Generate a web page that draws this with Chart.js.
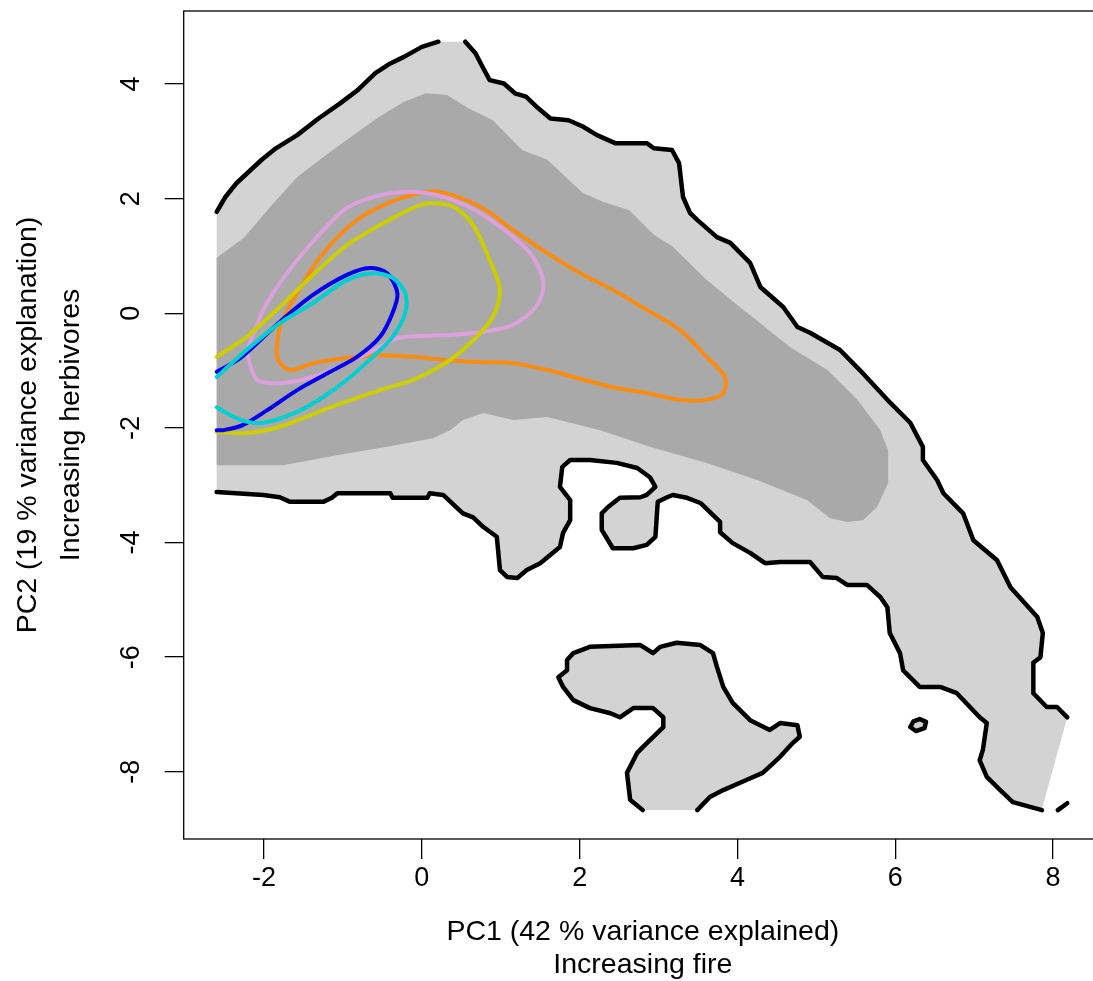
<!DOCTYPE html>
<html>
<head>
<meta charset="utf-8">
<script src="https://cdn.jsdelivr.net/npm/chart.js@4.4.0/dist/chart.umd.min.js"></script>
<style>
  html, body { margin: 0; padding: 0; background: #fff; overflow: hidden; }
  canvas { display: block; }
</style>
</head>
<body>
<canvas id="chart-pca" width="1110" height="981"></canvas>
<script>
// axis ticks
const xTicks = [-2, 0, 2, 4, 6, 8];
const yTicks = [-8, -6, -4, -2, 0, 2, 4];

// outer contour (black), split where it meets the grid edge
const blackLeft = [[-2.6,1.77],[-2.49,2.03],[-2.35,2.27],[-2.03,2.68],[-1.85,2.88],[-1.58,3.11],[-1.31,3.40],[-1.04,3.66],[-0.81,3.90],[-0.59,4.19],[-0.40,4.36],[-0.22,4.48],[0.00,4.65],[0.21,4.74]];
const blackRight = [[0.55,4.74],[0.68,4.54],[0.77,4.30],[0.86,4.07],[1.04,4.01],[1.18,3.84],[1.32,3.78],[1.45,3.61],[1.63,3.40],[1.86,3.37],[2.04,3.26],[2.22,3.11],[2.45,2.97],[2.85,2.97],[2.94,2.88],[3.17,2.85],[3.26,2.62],[3.31,2.03],[3.40,1.75],[3.49,1.63],[3.74,1.33],[3.91,1.23],[4.16,0.88],[4.29,0.46],[4.58,0.11],[4.76,-0.24],[4.92,-0.34],[5.30,-0.64],[5.55,-0.99],[5.90,-1.51],[6.19,-1.91],[6.35,-2.33],[6.35,-2.56],[6.53,-2.91],[6.61,-3.14],[6.86,-3.49],[6.99,-3.96],[7.29,-4.31],[7.46,-4.78],[7.80,-5.30],[7.87,-5.58],[7.84,-6.00],[7.75,-6.10],[7.75,-6.63],[7.92,-6.87],[8.05,-6.87],[8.18,-7.05]];
const gridCorner = [[7.87,-8.6]];
const blackBottom = [[7.86,-8.67],[7.49,-8.53],[7.33,-8.32],[7.16,-8.09],[7.07,-7.80],[7.11,-7.62],[7.16,-7.15],[7.07,-7.05],[6.78,-6.63],[6.57,-6.52],[6.31,-6.52],[6.10,-6.23],[6.06,-5.93],[5.93,-5.58],[5.90,-5.13],[5.81,-4.95],[5.64,-4.74],[5.39,-4.74],[5.26,-4.62],[5.08,-4.60],[4.92,-4.34],[4.54,-4.34],[4.35,-4.36],[4.16,-4.18],[3.94,-4.01],[3.78,-3.82],[3.78,-3.64],[3.53,-3.31],[3.36,-3.22],[3.18,-3.17],[3.11,-3.21],[2.99,-3.29],[2.98,-3.49],[2.96,-3.90],[2.85,-4.04],[2.68,-4.10],[2.42,-4.10],[2.36,-3.96],[2.28,-3.78],[2.28,-3.49],[2.36,-3.38],[2.51,-3.22],[2.77,-3.21],[2.85,-3.17],[2.96,-3.03],[2.89,-2.86],[2.73,-2.70],[2.47,-2.61],[2.13,-2.56],[1.88,-2.56],[1.78,-2.68],[1.75,-3.03],[1.88,-3.26],[1.88,-3.61],[1.79,-3.83],[1.75,-4.08],[1.50,-4.36],[1.33,-4.48],[1.21,-4.62],[1.08,-4.60],[0.99,-4.48],[0.95,-3.90],[0.78,-3.73],[0.65,-3.56],[0.52,-3.49],[0.27,-3.17],[0.10,-3.14],[0.07,-3.22],[-0.37,-3.22],[-0.40,-3.14],[-1.07,-3.14],[-1.14,-3.22],[-1.25,-3.29],[-1.67,-3.29],[-1.80,-3.21],[-2.01,-3.17],[-2.6,-3.12]];
const island = [[2.80,-8.67],[2.64,-8.49],[2.60,-8.02],[2.73,-7.67],[2.80,-7.57],[3.06,-7.22],[3.06,-7.05],[2.93,-6.89],[2.68,-6.89],[2.51,-7.05],[2.39,-6.98],[2.13,-6.89],[1.92,-6.75],[1.79,-6.52],[1.73,-6.35],[1.84,-6.23],[1.84,-6.05],[1.92,-5.93],[2.13,-5.82],[2.77,-5.79],[2.93,-5.93],[3.02,-5.82],[3.23,-5.75],[3.53,-5.79],[3.69,-5.93],[3.74,-6.17],[3.82,-6.52],[3.94,-6.80],[4.16,-7.10],[4.41,-7.27],[4.54,-7.15],[4.76,-7.19],[4.79,-7.39],[4.70,-7.50],[4.54,-7.74],[4.32,-8.02],[4.12,-8.14],[3.82,-8.32],[3.65,-8.44],[3.49,-8.67]];
const blob = [[6.19,-7.22],[6.23,-7.12],[6.31,-7.08],[6.39,-7.13],[6.37,-7.24],[6.26,-7.29],[6.19,-7.22]];
const fragment = [[8.06,-8.67],[8.18,-8.55]];

// inner (dark grey) region
const darkRegion = [[-2.6,0.97],[-2.26,1.31],[-1.92,1.86],[-1.58,2.38],[-1.13,2.85],[-0.54,3.43],[-0.23,3.69],[0.05,3.84],[0.32,3.81],[0.59,3.58],[0.90,3.37],[1.27,2.85],[1.59,2.68],[2.04,2.10],[2.31,1.94],[2.63,1.80],[2.94,1.37],[3.18,1.16],[3.61,0.58],[4.03,0.11],[4.67,-0.59],[5.14,-0.99],[5.52,-1.51],[5.81,-2.04],[5.91,-2.39],[5.91,-2.96],[5.77,-3.38],[5.59,-3.61],[5.39,-3.64],[5.17,-3.57],[4.88,-3.26],[4.25,-2.91],[3.61,-2.61],[2.89,-2.33],[2.26,-2.04],[1.59,-1.81],[1.16,-1.86],[0.78,-1.74],[0.52,-1.86],[0.36,-2.04],[0.14,-2.18],[-0.44,-2.33],[-1.04,-2.47],[-1.76,-2.65],[-2.6,-2.65]];

// coloured contours
const orange = [[-1.84,-0.64],[-1.80,-0.24],[-1.58,0.35],[-1.29,0.98],[-0.87,1.58],[-0.44,1.92],[-0.02,2.10],[0.23,2.12],[0.74,1.86],[1.16,1.45],[1.59,1.05],[2.01,0.70],[2.42,0.41],[2.85,0.06],[3.27,-0.29],[3.61,-0.76],[3.84,-1.11],[3.82,-1.39],[3.61,-1.51],[3.27,-1.51],[2.85,-1.39],[2.42,-1.29],[1.59,-0.99],[1.16,-0.87],[0.74,-0.85],[0.32,-0.82],[-0.11,-0.76],[-0.53,-0.73],[-0.95,-0.78],[-1.38,-0.87],[-1.67,-0.99],[-1.82,-0.82],[-1.84,-0.64]];
const pink = [[-2.22,-0.69],[-2.09,-1.16],[-1.80,-1.22],[-1.38,-1.11],[-0.95,-0.87],[-0.53,-0.59],[-0.31,-0.43],[0.32,-0.38],[0.74,-0.33],[1.16,-0.20],[1.46,0.14],[1.54,0.53],[1.41,0.98],[1.16,1.33],[0.74,1.75],[0.32,2.01],[-0.11,2.12],[-0.53,2.06],[-0.95,1.84],[-1.25,1.45],[-1.51,1.05],[-1.80,0.53],[-2.01,0.06],[-2.15,-0.41],[-2.22,-0.69]];
const yellow = [[-2.6,-0.76],[-2.22,-0.41],[-1.80,0.11],[-1.38,0.67],[-0.95,1.19],[-0.53,1.54],[-0.11,1.84],[0.10,1.92],[0.40,1.86],[0.65,1.54],[0.86,0.93],[0.99,0.41],[0.90,-0.06],[0.65,-0.47],[0.32,-0.85],[-0.11,-1.16],[-0.53,-1.34],[-1.16,-1.64],[-1.80,-1.98],[-2.22,-2.09],[-2.6,-2.07]];
const blue = [[-2.6,-1.02],[-2.30,-0.78],[-1.80,-0.15],[-1.38,0.32],[-0.95,0.67],[-0.66,0.79],[-0.44,0.70],[-0.31,0.35],[-0.37,0.01],[-0.53,-0.41],[-0.82,-0.76],[-1.16,-1.02],[-1.58,-1.34],[-1.96,-1.69],[-2.27,-1.95],[-2.52,-2.04],[-2.6,-2.04]];
const cyan = [[-2.6,-1.11],[-2.22,-0.64],[-1.80,-0.17],[-1.38,0.18],[-0.95,0.58],[-0.62,0.70],[-0.37,0.62],[-0.21,0.35],[-0.21,0.01],[-0.37,-0.41],[-0.62,-0.76],[-0.95,-1.16],[-1.25,-1.46],[-1.58,-1.72],[-2.01,-1.91],[-2.30,-1.86],[-2.6,-1.64]];

const FONT = '"Liberation Sans", Arial, sans-serif';
const pts = (arr) => arr.map(([x, y]) => ({ x: x, y: y }));

const lightGrey = "rgb(211, 211, 211)";
const darkGrey = "rgb(169, 169, 169)";

function area(points, color, order) {
  return {
    data: pts(points),
    backgroundColor: color,
    borderColor: "rgba(0,0,0,0)",
    borderWidth: 0,
    fill: "shape",
    pointRadius: 0,
    order: order,
  };
}

function contour(points, color, width, order, tension) {
  return {
    data: pts(points),
    borderColor: color,
    borderWidth: width,
    borderJoinStyle: "round",
    borderCapStyle: "round",
    tension: tension || 0,
    fill: false,
    pointRadius: 0,
    order: order,
  };
}

const outerShape = [].concat(blackLeft, blackRight, gridCorner, blackBottom);

const boxPlugin = {
  id: "boxPlugin",
  afterDatasetsDraw(chart) {
    const { ctx, chartArea } = chart;
    ctx.save();
    ctx.strokeStyle = "#000";
    ctx.lineWidth = 1.3;
    ctx.strokeRect(chartArea.left, chartArea.top, chartArea.right - chartArea.left, chartArea.bottom - chartArea.top);
    ctx.restore();
  },
};

// y tick labels in R style (parallel to the axis)
const yLabelPlugin = {
  id: "yLabelPlugin",
  afterDraw(chart) {
    const { ctx } = chart;
    const y = chart.scales.y;
    ctx.save();
    ctx.font = "27px " + FONT;
    ctx.fillStyle = "#000";
    ctx.textAlign = "center";
    ctx.textBaseline = "middle";
    y.ticks.forEach((t) => {
      const py = y.getPixelForValue(t.value);
      ctx.save();
      ctx.translate(y.right - 52, py);
      ctx.rotate(-Math.PI / 2);
      ctx.fillText(String(t.value), 0, 0);
      ctx.restore();
    });
    ctx.restore();
  },
};

const ctx = document.getElementById("chart-pca").getContext("2d");

const myChart = new Chart(ctx, {
  type: "line",
  data: {
    datasets: [
      contour(cyan, "#00CED1", 4, 1, 0.3),
      contour(blue, "#0000EE", 4, 2, 0.3),
      contour(yellow, "#CDCD00", 4, 3, 0.3),
      contour(pink, "#DDA0DD", 4, 4, 0.3),
      contour(orange, "#FA8C12", 4, 5, 0.3),
      contour(blackLeft, "#000", 4.5, 10),
      contour(blackRight, "#000", 4.5, 10),
      contour(blackBottom, "#000", 4.5, 10),
      contour(island, "#000", 4.5, 10),
      contour(blob, "#000", 4.5, 10),
      contour(fragment, "#000", 4.5, 10),
      area(darkRegion, darkGrey, 20),
      area(outerShape, lightGrey, 30),
      area(island, lightGrey, 30),
      area(blob, lightGrey, 30),
    ],
  },
  options: {
    responsive: false,
    animation: false,
    events: [],
    layout: { padding: { top: 11, right: 8, left: 0, bottom: 0 } },
    plugins: {
      legend: { display: false },
      tooltip: { enabled: false },
    },
    scales: {
      x: {
        type: "linear",
        min: -3.018,
        max: 8.62,
        afterBuildTicks: (s) => { s.ticks = xTicks.map((v) => ({ value: v })); },
        afterFit: (s) => { s.height = 142; },
        border: { display: false },
        grid: { drawOnChartArea: false, drawTicks: true, tickLength: 20, color: "#000", lineWidth: 1.3 },
        ticks: {
          color: "#000",
          font: { family: FONT, size: 27 },
          padding: 3,
          maxRotation: 0,
          autoSkip: false,
          callback: (v) => String(v),
        },
        title: {
          display: true,
          text: ["PC1 (42 % variance explained)", "Increasing fire"],
          color: "#000",
          font: { family: FONT, size: 28.5, lineHeight: 1.16 },
          padding: { top: 0, bottom: -1 },
        },
      },
      y: {
        type: "linear",
        min: -9.174,
        max: 5.276,
        afterBuildTicks: (s) => { s.ticks = yTicks.map((v) => ({ value: v })); },
        afterFit: (s) => { s.width = 183.7; },
        border: { display: false },
        grid: { drawOnChartArea: false, drawTicks: true, tickLength: 19, color: "#000", lineWidth: 1.3 },
        ticks: { display: false },
        title: {
          display: true,
          text: ["PC2 (19 % variance explanation)", "Increasing herbivores"],
          color: "#000",
          font: { family: FONT, size: 28.5, lineHeight: 1.5 },
          padding: { top: 7, bottom: 0 },
        },
      },
    },
  },
  plugins: [boxPlugin, yLabelPlugin],
});
</script>
</body>
</html>
